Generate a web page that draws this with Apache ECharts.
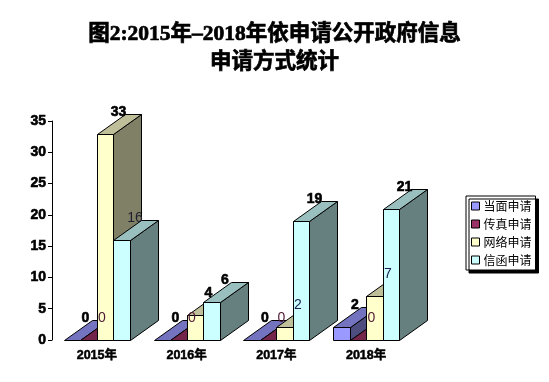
<!DOCTYPE html>
<html><head><meta charset="utf-8">
<style>html,body{margin:0;padding:0;background:#fff}#c{width:549px;height:382px}</style>
<script src="https://cdn.jsdelivr.net/npm/echarts@6/dist/echarts.min.js"></script>
</head><body><div id="c"></div>
<script>
const categories = ['2015年','2016年','2017年','2018年'];
const names = ['当面申请','传真申请','网络申请','信函申请'];
const inPerson = [0,0,0,2];
const fax = [0,0,0,0];
const online = [33,4,2,7];
const letter = [16,6,19,21];
const seriesValues = [inPerson, fax, online, letter];
const frontColors = ['#9999FF','#993366','#FFFFCC','#CCFFFF'];
const topColors = ['#7373BF','#732649','#BFBF99','#99BFBF'];
const sideColors = ['#4D4D80','#4D1A33','#808066','#668080'];
// Whether each value label is heavy, per series then category
const heavy = [[1,1,1,1],[0,0,0,0],[1,1,0,0],[0,1,1,1]];
const lightColors = ['#222','#4D1A33','#1c1c50','#1f1f30'];

const BAR = 0.184, DX = 28, DY = 20;
const snap = v => Math.round(v) + 0.5;
const chart = echarts.init(document.getElementById('c'), null, {renderer:'canvas'});

function render(si){
  return function(params, api){
    const cat = api.value(0), val = api.value(1);
    const base = api.coord([cat,0]), top = api.coord([cat,val]);
    const band = api.size([1,0])[0], w = band*BAR;
    const x0 = snap(base[0] - 2*w + si*w), x1 = snap(base[0] - 2*w + (si+1)*w);
    const y0 = snap(base[1]), y1 = snap(top[1]);
    const ln = {stroke:'#000', lineWidth:1};
    const poly = (pts, fill) => ({type:'polygon', shape:{points:pts}, style:Object.assign({fill}, ln)});
    const kids = [
      poly([[x1,y0],[x1+DX,y0-DY],[x1+DX,y1-DY],[x1,y1]], sideColors[si]),
      poly([[x0,y1],[x0+DX,y1-DY],[x1+DX,y1-DY],[x1,y1]], topColors[si])
    ];
    if (val > 0) kids.push(poly([[x0,y0],[x1,y0],[x1,y1],[x0,y1]], frontColors[si]));
    const isHeavy = heavy[si][cat];
    kids.push({type:'text', z2:50, x:(x0+x1)/2+DX/2-1, y:y1-DY-2,
      style:{text:String(val), align:'center', verticalAlign:'middle',
        fontFamily:'"Liberation Sans"', fontSize:14, fontWeight:isHeavy?'bold':'normal',
        fill:isHeavy?'#000':lightColors[si],
        stroke:isHeavy?'#000':null, lineWidth:isHeavy?0.6:0}});
    return {type:'group', children:kids};
  };
}

chart.setOption({
  animation:false,
  backgroundColor:'#fff',
  title:{
    text:'图2:2015年–2018年依申请公开政府信息\n申请方式统计',
    left:'center', top:15, itemGap:0,
    textStyle:{fontFamily:'"Liberation Serif","Noto Sans CJK SC"', fontSize:21.5, fontWeight:'bold', lineHeight:28, color:'#000',
      textBorderColor:'#000', textBorderWidth:0.7}
  },
  legend:{
    orient:'vertical', left:466, top:196, padding:[4,4,4,5], itemGap:6,
    itemWidth:8, itemHeight:8, icon:'rect',
    backgroundColor:'#fff', borderColor:'#000', borderWidth:1,
    shadowColor:'#000', shadowOffsetX:3, shadowOffsetY:3, shadowBlur:0,
    textStyle:{fontFamily:'"Noto Sans CJK SC"', fontSize:12, color:'#000', padding:[0,0,0,-1]},
    data:names.map((n,i)=>({name:n, icon:'rect', itemStyle:{color:frontColors[i], borderColor:'#000', borderWidth:1}}))
  },
  grid:{left:52, top:121, width:359, height:219},
  xAxis:{type:'category', data:categories,
    axisLine:{show:false}, axisTick:{show:false},
    axisLabel:{margin:9, fontFamily:'"Liberation Sans","Noto Sans CJK SC"', fontSize:12.5, fontWeight:'bold', color:'#000',
      textBorderColor:'#000', textBorderWidth:0.5}},
  yAxis:{type:'value', min:0, max:35, interval:5, splitLine:{show:false},
    axisLine:{show:true, lineStyle:{color:'#000'}},
    axisTick:{show:true, length:4, lineStyle:{color:'#000'}},
    axisLabel:{margin:6, fontFamily:'"Liberation Sans"', fontSize:14, fontWeight:'bold', color:'#000',
      textBorderColor:'#000', textBorderWidth:0.6}},
  series:seriesValues.map((vals,si)=>({
    type:'custom', name:names[si], renderItem:render(si), coordinateSystem:'cartesian2d',
    encode:{x:0,y:1}, itemStyle:{color:frontColors[si]},
    data:vals.map((v,i)=>[i,v])
  }))
});
</script></body></html>
